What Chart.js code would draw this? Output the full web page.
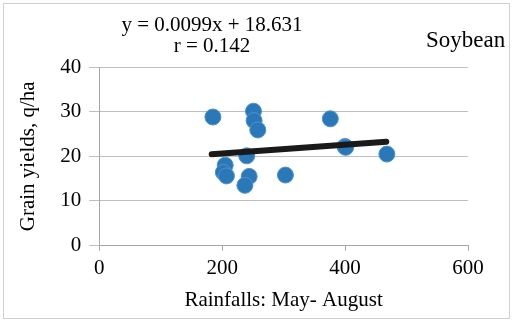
<!DOCTYPE html>
<html>
<head>
<meta charset="utf-8">
<script src="https://cdn.jsdelivr.net/npm/chart.js@4"></script>
<style>
  html, body { margin: 0; padding: 0; background: #fff; }
  #wrap { position: absolute; left: 3px; top: 3px; width: 505px; height: 314px; border: 1px solid #d0d0d0; }
  #box { position: absolute; left: -4px; top: -4px; width: 512px; height: 321px; }
</style>
</head>
<body>
<div id="wrap"><div id="box"><canvas id="chart" width="512" height="321"></canvas></div></div>
<script>
  // rainfall (mm) vs grain yield (q/ha)
  const rainfall = [185, 251, 252, 258, 376, 400, 468, 240, 205, 202, 207, 244, 237, 303, 401];
  const yields = [28.8, 30.1, 28.0, 25.9, 28.4, 22.2, 20.5, 20.1, 18.0, 16.4, 15.6, 15.5, 13.5, 15.8, 22.0];
  const trendX = [183, 467];
  const slope = 0.0099;
  const intercept = 18.631;
  const xTicks = [0, 200, 400, 600];
  const yTicks = [0, 10, 20, 30, 40];

  const points = rainfall.map((x, i) => ({ x: x, y: yields[i] }));
  const trend = trendX.map((x) => ({ x: x, y: slope * x + intercept }));

  const font = "'Liberation Serif', 'Times New Roman', serif";

  // equation and crop label
  const labels = {
    id: "labels",
    afterDraw(chart) {
      const ctx = chart.ctx;
      ctx.save();
      ctx.fillStyle = "#000";
      ctx.font = "21px " + font;
      ctx.textAlign = "center";
      ctx.textBaseline = "middle";
      ctx.fillText("y = 0.0099x + 18.631", 212, 25);
      ctx.fillText("r = 0.142", 212, 46);
      ctx.font = "23px " + font;
      ctx.textAlign = "left";
      ctx.fillText("Soybean", 426, 41);
      ctx.restore();
    },
  };

  new Chart(document.getElementById("chart").getContext("2d"), {
    type: "scatter",
    data: {
      datasets: [
        {
          label: "Trend",
          type: "line",
          data: trend,
          borderColor: "#1a1a1a",
          borderWidth: 6,
          borderCapStyle: "round",
          pointRadius: 0,
          fill: false,
          order: 0,
        },
        {
          label: "Soybean",
          data: points,
          backgroundColor: "#2a78b8",
          borderColor: "#4c93cf",
          borderWidth: 1,
          pointRadius: 8,
          order: 1,
        },
      ],
    },
    options: {
      responsive: false,
      animation: false,
      layout: { padding: { top: 67, right: 44, left: 12, bottom: 4 } },
      plugins: {
        legend: { display: false },
        tooltip: { enabled: false },
      },
      scales: {
        x: {
          type: "linear",
          min: 0,
          max: 600,
          afterBuildTicks: (axis) => { axis.ticks = xTicks.map((v) => ({ value: v })); },
          grid: { drawOnChartArea: false, drawTicks: true, tickLength: 5, color: "#a6a6a6" },
          border: { color: "#a6a6a6" },
          ticks: { color: "#000", font: { family: font, size: 21 }, padding: 5 },
          title: { display: true, text: "Rainfalls: May- August", color: "#000", font: { family: font, size: 21 }, padding: { top: 2 } },
        },
        y: {
          min: 0,
          max: 40,
          afterBuildTicks: (axis) => { axis.ticks = yTicks.map((v) => ({ value: v })); },
          grid: { color: "#bfbfbf", drawTicks: true, tickLength: 10 },
          border: { color: "#a6a6a6" },
          ticks: { color: "#000", font: { family: font, size: 21 }, padding: 8 },
          title: { display: true, text: "Grain yields, q/ha", color: "#000", font: { family: font, size: 21 }, padding: { bottom: 11 } },
        },
      },
    },
    plugins: [labels],
  });
</script>
</body>
</html>
